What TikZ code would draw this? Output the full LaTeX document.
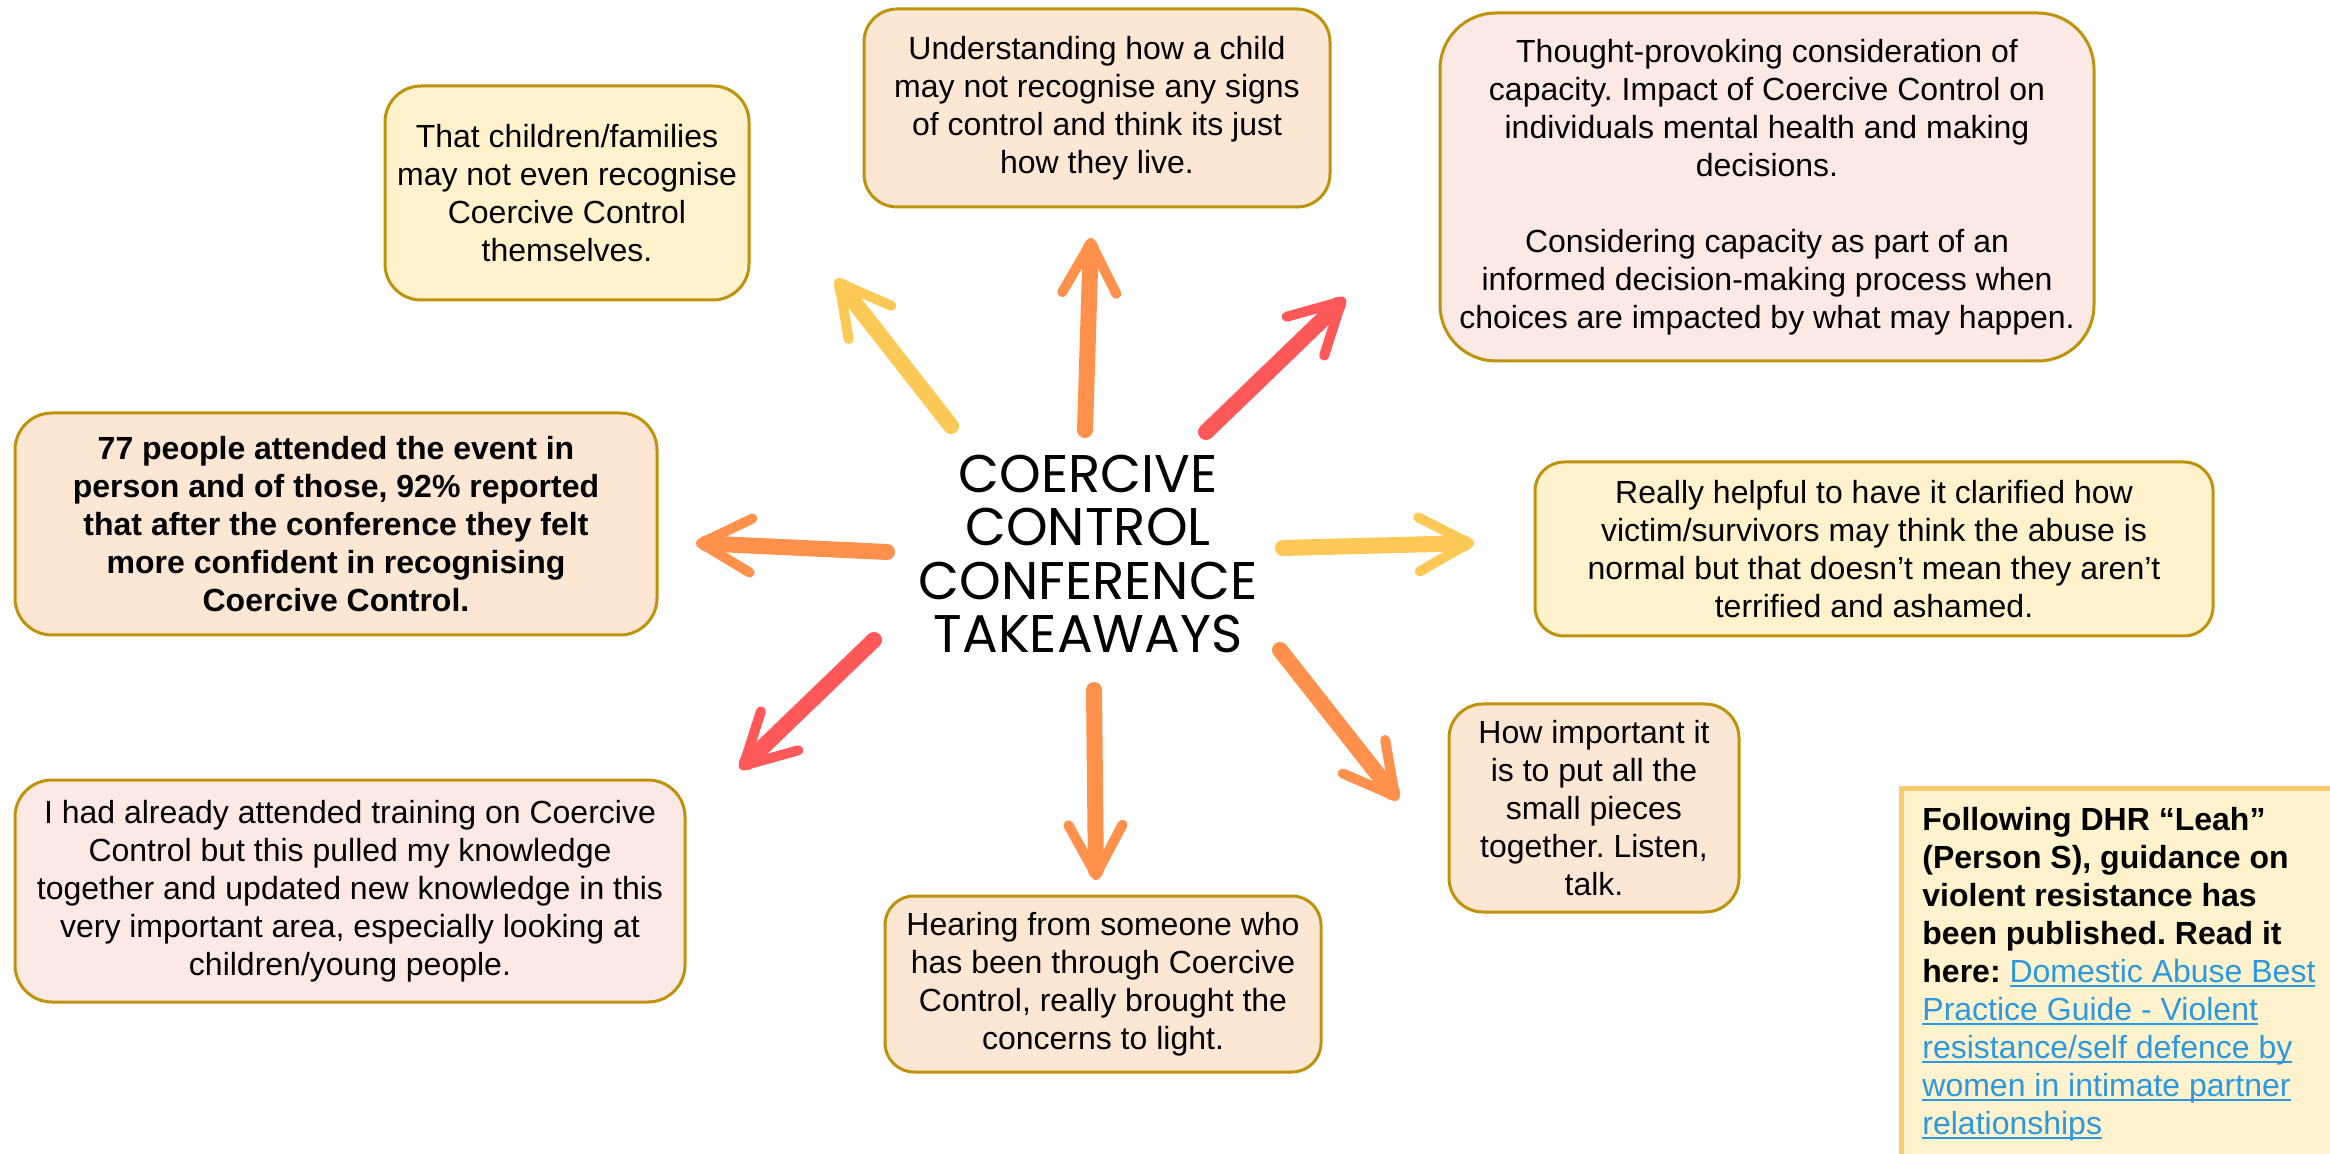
\documentclass[tikz,border=0pt]{standalone}
\usepackage{fontspec}
\setmainfont{Liberation Sans}
\newfontfamily\titlefont{Poppins}
\usetikzlibrary{arrows.meta}
\frenchspacing

\definecolor{arrYellow}{RGB}{252,201,86}
\definecolor{arrOrange}{RGB}{255,145,77}
\definecolor{arrRed}{RGB}{255,88,88}
\definecolor{fillYellow}{RGB}{255,242,204}
\definecolor{fillPeach}{RGB}{252,231,212}
\definecolor{fillPink}{RGB}{252,233,230}
\definecolor{boxGold}{RGB}{191,146,10}
\definecolor{guideEdge}{RGB}{249,205,110}
\definecolor{linkBlue}{RGB}{44,152,224}

\newsavebox{\linkbox}
\newcommand{\guidelink}[1]{\textcolor{linkBlue}{\mdseries\sbox{\linkbox}{#1}%
  \rlap{\rule[-2.4pt]{\wd\linkbox}{1pt}}\usebox{\linkbox}}}

\begin{document}
\begin{tikzpicture}[x=0.5pt, y=-0.5pt,
takeaway/.style={rectangle, draw=boxGold, line width=1.5pt, align=center, inner sep=0pt,
  font=\fontsize{16pt}{19pt}\selectfont},
hand/.style={line width=8pt, line cap=round,
  -{Straight Barb[length=25pt, width=27pt, line width=5pt, round]}},]

\useasboundingbox (0,0) rectangle (2330,1154);
\clip (0,0) rectangle (2330,1154);
\fill[white] (0,0) rectangle (2330,1154);

\node[align=center, inner sep=0pt, font=\titlefont\fontsize{26.5pt}{26.7pt}\selectfont] (C_title) at (1088,554)
  {COERCIVE\\CONTROL\\CONFERENCE\\TAKEAWAYS};

\node[takeaway, fill=fillYellow, minimum width=182pt, minimum height=107pt, rounded corners=18pt] (B_families) at (567,193)
  {That children/families\\may not even recognise\\Coercive Control\\themselves.};
\node[takeaway, fill=fillPeach, minimum width=233pt, minimum height=99pt, rounded corners=16.5pt] (B_child) at (1097,108)
  {Understanding how a child\\may not recognise any signs\\of control and think its just\\how they live.};
\node[takeaway, fill=fillPink, minimum width=327pt, minimum height=174pt, rounded corners=28pt] (B_capacity) at (1767,187)
  {Thought-provoking consideration of\\capacity. Impact of Coercive Control on\\individuals mental health and making\\decisions.\\[19pt]
   Considering capacity as part of an\\informed decision-making process when\\choices are impacted by what may happen.};
\node[takeaway, fill=fillPeach, minimum width=321pt, minimum height=111pt, rounded corners=18.5pt,
  font=\fontsize{16pt}{19pt}\selectfont\bfseries] (B_stats) at (336,524)
  {77 people attended the event in\\person and of those, 92\% reported\\that after the conference they felt\\more confident in recognising\\Coercive Control.};
\node[takeaway, fill=fillYellow, minimum width=339pt, minimum height=87pt, rounded corners=14.5pt] (B_normal) at (1874,549)
  {Really helpful to have it clarified how\\victim/survivors may think the abuse is\\normal but that doesn’t mean they aren’t\\terrified and ashamed.};
\node[takeaway, fill=fillPink, minimum width=335pt, minimum height=111pt, rounded corners=18.5pt] (B_training) at (350,891)
  {I had already attended training on Coercive\\Control but this pulled my knowledge\\together and updated new knowledge in this\\very important area, especially looking at\\children/young people.};
\node[takeaway, fill=fillPeach, minimum width=218pt, minimum height=88pt, rounded corners=14.5pt] (B_hearing) at (1103,984)
  {Hearing from someone who\\has been through Coercive\\Control, really brought the\\concerns to light.};
\node[takeaway, fill=fillPeach, minimum width=145pt, minimum height=104pt, rounded corners=17pt] (B_pieces) at (1594,808)
  {How important it\\is to put all the\\small pieces\\together. Listen,\\talk.};

\fill[fillYellow, draw=guideEdge, line width=2.5pt] (1901,788) rectangle (2400,1220);
\node[anchor=north west, align=left, inner sep=0pt, font=\fontsize{16pt}{19pt}\selectfont\bfseries] (B_guide) at (1922,807)
  {Following DHR “Leah”\\(Person S), guidance on\\violent resistance has\\been published. Read it\\
   here: \guidelink{Domestic Abuse Best}\\\guidelink{Practice Guide - Violent}\\\guidelink{resistance/self defence by}\\
   \guidelink{women in intimate partner}\\\guidelink{relationships}};

\coordinate (FAM_tail) at (951,426);
\coordinate (FAM_tip) at (836,279);
\coordinate (CHD_tail) at (1085,430);
\coordinate (CHD_tip) at (1091,238);
\coordinate (CAP_tail) at (1206,432);
\coordinate (CAP_tip) at (1345,298);
\coordinate (NRM_tail) at (1283,548);
\coordinate (NRM_tip) at (1474,543);
\coordinate (STA_tail) at (887,552);
\coordinate (STA_tip) at (696,543);
\coordinate (TRN_tail) at (874,640);
\coordinate (TRN_tip) at (740,769);
\coordinate (HRG_tail) at (1094,690);
\coordinate (HRG_tip) at (1096,880);
\coordinate (PCS_tail) at (1280,650);
\coordinate (PCS_tip) at (1398,800);

\draw[hand, arrYellow] (FAM_tail) -- (FAM_tip);
\draw[hand, arrOrange] (CHD_tail) -- (CHD_tip);
\draw[hand, arrRed] (CAP_tail) -- (CAP_tip);
\draw[hand, arrYellow] (NRM_tail) -- (NRM_tip);
\draw[hand, arrOrange] (STA_tail) -- (STA_tip);
\draw[hand, arrRed] (TRN_tail) -- (TRN_tip);
\draw[hand, arrOrange] (HRG_tail) -- (HRG_tip);
\draw[hand, arrOrange] (PCS_tail) -- (PCS_tip);

\end{tikzpicture}
\end{document}
